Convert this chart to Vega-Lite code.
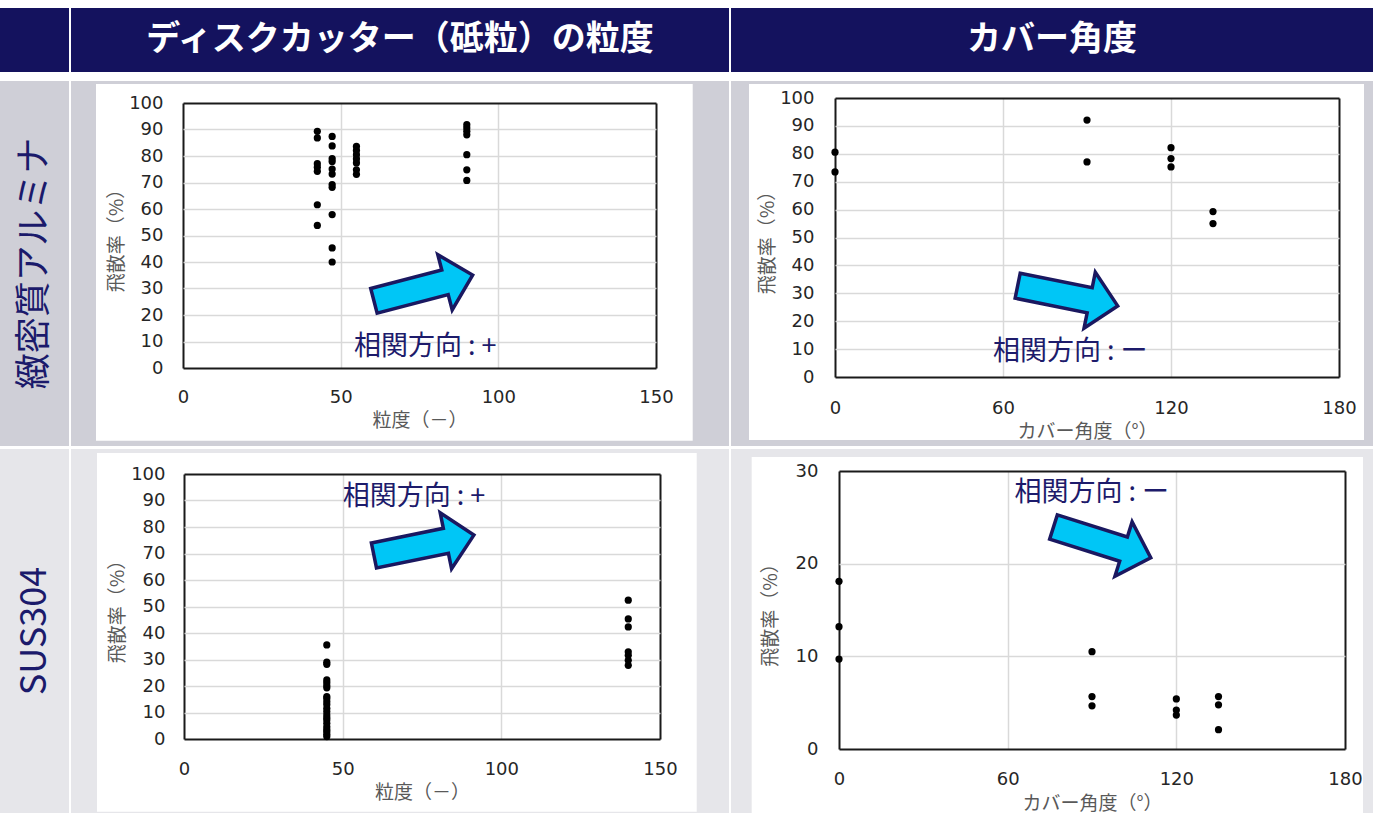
{
  "$schema": "https://vega.github.io/schema/vega-lite/v6.json",
  "background": "white",
  "padding": {"left": 0, "top": 8, "right": 0, "bottom": 0},
  "datasets": {
    "p1": [
      {"x": 42.6, "y": 89.3}, {"x": 42.6, "y": 86.8}, {"x": 42.6, "y": 77.1}, {"x": 42.6, "y": 75.8}, {"x": 42.6, "y": 74.2}, {"x": 42.6, "y": 61.6}, {"x": 42.6, "y": 53.8},
      {"x": 47.3, "y": 87.4}, {"x": 47.3, "y": 83.8}, {"x": 47.3, "y": 79.0}, {"x": 47.3, "y": 77.9}, {"x": 47.3, "y": 75.1}, {"x": 47.3, "y": 73.2}, {"x": 47.3, "y": 69.2}, {"x": 47.3, "y": 68.2}, {"x": 47.3, "y": 57.9}, {"x": 47.3, "y": 45.3}, {"x": 47.3, "y": 40.0},
      {"x": 55, "y": 83.6}, {"x": 55, "y": 82.1}, {"x": 55, "y": 80.5}, {"x": 55, "y": 78.9}, {"x": 55, "y": 77.4}, {"x": 55, "y": 74.8}, {"x": 55, "y": 73.1},
      {"x": 90, "y": 91.8}, {"x": 90, "y": 90.6}, {"x": 90, "y": 89.3}, {"x": 90, "y": 88.0}, {"x": 90, "y": 80.5}, {"x": 90, "y": 74.8}, {"x": 90, "y": 70.8}
    ],
    "p2": [
      {"x": 0, "y": 80.6}, {"x": 0, "y": 73.5},
      {"x": 90, "y": 92.1}, {"x": 90, "y": 77.1},
      {"x": 120, "y": 82.2}, {"x": 120, "y": 78.3}, {"x": 120, "y": 75.3},
      {"x": 135, "y": 59.3}, {"x": 135, "y": 55.0}
    ],
    "p3": [
      {"x": 45, "y": 35.5}, {"x": 45, "y": 29.0}, {"x": 45, "y": 28.2}, {"x": 45, "y": 22.3}, {"x": 45, "y": 21.3}, {"x": 45, "y": 20.2}, {"x": 45, "y": 19.3},
      {"x": 45, "y": 16.0}, {"x": 45, "y": 15.3}, {"x": 45, "y": 14.1}, {"x": 45, "y": 13.0}, {"x": 45, "y": 11.6}, {"x": 45, "y": 10.4}, {"x": 45, "y": 9.1}, {"x": 45, "y": 8.0},
      {"x": 45, "y": 7.2}, {"x": 45, "y": 5.9}, {"x": 45, "y": 4.6}, {"x": 45, "y": 3.6}, {"x": 45, "y": 2.8}, {"x": 45, "y": 1.8}, {"x": 45, "y": 0.9},
      {"x": 140, "y": 52.4}, {"x": 140, "y": 45.3}, {"x": 140, "y": 42.3}, {"x": 140, "y": 32.9}, {"x": 140, "y": 31.6}, {"x": 140, "y": 29.7}, {"x": 140, "y": 27.8}
    ],
    "p4": [
      {"x": 0, "y": 18.1}, {"x": 0, "y": 13.2}, {"x": 0, "y": 9.7},
      {"x": 90, "y": 10.5}, {"x": 90, "y": 5.66}, {"x": 90, "y": 4.66},
      {"x": 120, "y": 5.4}, {"x": 120, "y": 4.2}, {"x": 120, "y": 3.66},
      {"x": 135, "y": 5.66}, {"x": 135, "y": 4.77}, {"x": 135, "y": 2.08}
    ]
  },
  "spacing": 9,
  "vconcat": [
    {
      "spacing": 2,
      "hconcat": [
        {"width": 69, "height": 64, "view": {"fill": "#14125e", "stroke": null}, "data": {"values": [{"label": ""}]}, "mark": {"type": "text", "color": "white"}, "encoding": {"text": {"field": "label"}}},
        {"width": 658, "height": 64, "view": {"fill": "#14125e", "stroke": null}, "data": {"values": [{"label": "ディスクカッター（砥粒）の粒度"}]}, "mark": {"type": "text", "color": "white", "fontSize": 34, "fontWeight": "bold", "font": "Noto Sans CJK JP"}, "encoding": {"text": {"field": "label"}}},
        {"width": 642, "height": 64, "view": {"fill": "#14125e", "stroke": null}, "data": {"values": [{"label": "カバー角度"}]}, "mark": {"type": "text", "color": "white", "fontSize": 34, "fontWeight": "bold", "font": "Noto Sans CJK JP"}, "encoding": {"text": {"field": "label"}}}
      ]
    },
    {
      "spacing": 3,
      "vconcat": [
        {
          "spacing": 2,
          "hconcat": [
            {"width": 69, "height": 365, "view": {"fill": "#cfcfd7", "stroke": null}, "data": {"values": [{"label": "緻密質アルミナ"}]}, "mark": {"type": "text", "color": "#1b1a6b", "fontSize": 36, "angle": 270, "font": "Noto Sans CJK JP"}, "encoding": {"text": {"field": "label"}}},
            {
              "width": 658, "height": 365,
              "view": {"fill": "white", "stroke": null},
              "resolve": {"axis": {"x": "independent", "y": "independent"}},
              "layer": [
                {
                  "data": {"values": [{}]},
                  "mark": {"type": "rect", "color": "#cfcfd7", "clip": true},
                  "encoding": {
                    "x": {"datum": -60, "type": "quantitative", "scale": {"domain": [0, 150], "range": [112, 585], "nice": false, "zero": false},
                      "axis": {"orient": "top", "values": [0, 50, 100, 150], "grid": true, "labels": false, "title": null,
                        "gridColor": {"condition": {"test": "datum.value === 0 || datum.value === 150", "value": "#1a1a1a"}, "value": "#d9d9d9"},
                        "gridWidth": {"condition": {"test": "datum.value === 0 || datum.value === 150", "value": 2}, "value": 1.5}}},
                    "x2": {"datum": -27.59},
                    "y": {"datum": -60, "type": "quantitative", "scale": {"domain": [0, 100], "range": [287, 22], "nice": false, "zero": false},
                      "axis": {"orient": "left", "offset": -112, "values": [0, 10, 20, 30, 40, 50, 60, 70, 80, 90, 100], "grid": true, "labelPadding": 20, "title": "飛散率（%）", "titlePadding": 2,
                        "gridColor": {"condition": {"test": "datum.value === 0 || datum.value === 100", "value": "#1a1a1a"}, "value": "#d9d9d9"},
                        "gridWidth": {"condition": {"test": "datum.value === 0 || datum.value === 100", "value": 2}, "value": 1.5}}},
                    "y2": {"datum": 130}
                  }
                },
                {
                  "layer": [
                    {"data": {"values": [{}]}, "mark": {"type": "rect", "color": "#cfcfd7", "clip": true},
                      "encoding": {"x": {"datum": 161.64, "type": "quantitative", "scale": {"domain": [0, 150], "range": [112, 585], "nice": false, "zero": false}}, "x2": {"datum": 250},
                        "y": {"datum": -60, "type": "quantitative", "axis": null, "scale": {"domain": [0, 100], "range": [287, 22], "nice": false, "zero": false}}, "y2": {"datum": 130}}},
                    {"data": {"values": [{}]}, "mark": {"type": "rect", "color": "#cfcfd7", "clip": true},
                      "encoding": {"x": {"datum": -60, "type": "quantitative", "scale": {"domain": [0, 150], "range": [112, 585], "nice": false, "zero": false}}, "x2": {"datum": 250},
                        "y": {"datum": 107.17, "type": "quantitative", "axis": null, "scale": {"domain": [0, 100], "range": [287, 22], "nice": false, "zero": false}}, "y2": {"datum": 130}}},
                    {"data": {"values": [{}]}, "mark": {"type": "rect", "color": "#cfcfd7", "clip": true},
                      "encoding": {"x": {"datum": -60, "type": "quantitative", "scale": {"domain": [0, 150], "range": [112, 585], "nice": false, "zero": false}}, "x2": {"datum": 250},
                        "y": {"datum": -60, "type": "quantitative", "axis": null, "scale": {"domain": [0, 100], "range": [287, 22], "nice": false, "zero": false}}, "y2": {"datum": -27.43}}},
                    {"data": {"name": "p1"}, "mark": {"type": "circle", "size": 52, "color": "#000000", "opacity": 1},
                      "encoding": {
                        "x": {"field": "x", "type": "quantitative", "scale": {"domain": [0, 150], "range": [112, 585], "nice": false, "zero": false},
                          "axis": {"orient": "bottom", "offset": -78, "values": [0, 50, 100, 150], "grid": false, "labelPadding": 20, "title": "粒度（－）", "titlePadding": 5}},
                        "y": {"field": "y", "type": "quantitative", "axis": null, "scale": {"domain": [0, 100], "range": [287, 22], "nice": false, "zero": false}}}},
                    {"data": {"values": [{}]}, "mark": {"type": "point", "shape": "M-1,-0.25L0.44,-0.25L0.44,-0.56L1,0L0.44,0.56L0.44,0.25L-1,0.25Z", "size": 10404, "angle": -14.6, "filled": true, "fill": "#00c6f6", "stroke": "#1a1860", "strokeWidth": 3.5, "opacity": 1},
                      "encoding": {"x": {"datum": 76.2, "type": "quantitative", "scale": {"domain": [0, 150], "range": [112, 585], "nice": false, "zero": false}},
                        "y": {"datum": 30.2, "type": "quantitative", "axis": null, "scale": {"domain": [0, 100], "range": [287, 22], "nice": false, "zero": false}}}},
                    {"data": {"values": [{}]}, "mark": {"type": "text", "align": "left", "baseline": "middle", "fontSize": 27, "font": "Noto Sans CJK JP", "color": "#1d1b6b"},
                      "encoding": {"x": {"datum": 54.2, "type": "quantitative", "scale": {"domain": [0, 150], "range": [112, 585], "nice": false, "zero": false}},
                        "y": {"datum": 7.9, "type": "quantitative", "axis": null, "scale": {"domain": [0, 100], "range": [287, 22], "nice": false, "zero": false}},
                        "text": {"value": "相関方向 : +"}}}
                  ]
                }
              ]
            },
            {
              "width": 642, "height": 365,
              "view": {"fill": "white", "stroke": null},
              "resolve": {"axis": {"x": "independent", "y": "independent"}},
              "layer": [
                {
                  "data": {"values": [{}]},
                  "mark": {"type": "rect", "color": "#cfcfd7", "clip": true},
                  "encoding": {
                    "x": {"datum": -60, "type": "quantitative", "scale": {"domain": [0, 180], "range": [104, 608], "nice": false, "zero": false},
                      "axis": {"orient": "top", "values": [0, 60, 120, 180], "grid": true, "labels": false, "title": null,
                        "gridColor": {"condition": {"test": "datum.value === 0 || datum.value === 180", "value": "#1a1a1a"}, "value": "#d9d9d9"},
                        "gridWidth": {"condition": {"test": "datum.value === 0 || datum.value === 180", "value": 2}, "value": 1.5}}},
                    "x2": {"datum": -30.71},
                    "y": {"datum": -60, "type": "quantitative", "scale": {"domain": [0, 100], "range": [296, 17], "nice": false, "zero": false},
                      "axis": {"orient": "left", "offset": -104, "values": [0, 10, 20, 30, 40, 50, 60, 70, 80, 90, 100], "grid": true, "labelPadding": 21, "title": "飛散率（%）", "titlePadding": 2,
                        "gridColor": {"condition": {"test": "datum.value === 0 || datum.value === 100", "value": "#1a1a1a"}, "value": "#d9d9d9"},
                        "gridWidth": {"condition": {"test": "datum.value === 0 || datum.value === 100", "value": 2}, "value": 1.5}}},
                    "y2": {"datum": 130}
                  }
                },
                {
                  "layer": [
                    {"data": {"values": [{}]}, "mark": {"type": "rect", "color": "#cfcfd7", "clip": true},
                      "encoding": {"x": {"datum": 188.93, "type": "quantitative", "scale": {"domain": [0, 180], "range": [104, 608], "nice": false, "zero": false}}, "x2": {"datum": 250},
                        "y": {"datum": -60, "type": "quantitative", "axis": null, "scale": {"domain": [0, 100], "range": [296, 17], "nice": false, "zero": false}}, "y2": {"datum": 130}}},
                    {"data": {"values": [{}]}, "mark": {"type": "rect", "color": "#cfcfd7", "clip": true},
                      "encoding": {"x": {"datum": -60, "type": "quantitative", "scale": {"domain": [0, 180], "range": [104, 608], "nice": false, "zero": false}}, "x2": {"datum": 250},
                        "y": {"datum": 105.02, "type": "quantitative", "axis": null, "scale": {"domain": [0, 100], "range": [296, 17], "nice": false, "zero": false}}, "y2": {"datum": 130}}},
                    {"data": {"values": [{}]}, "mark": {"type": "rect", "color": "#cfcfd7", "clip": true},
                      "encoding": {"x": {"datum": -60, "type": "quantitative", "scale": {"domain": [0, 180], "range": [104, 608], "nice": false, "zero": false}}, "x2": {"datum": 250},
                        "y": {"datum": -60, "type": "quantitative", "axis": null, "scale": {"domain": [0, 100], "range": [296, 17], "nice": false, "zero": false}}, "y2": {"datum": -22.58}}},
                    {"data": {"name": "p2"}, "mark": {"type": "circle", "size": 52, "color": "#000000", "opacity": 1},
                      "encoding": {
                        "x": {"field": "x", "type": "quantitative", "scale": {"domain": [0, 180], "range": [104, 608], "nice": false, "zero": false},
                          "axis": {"orient": "bottom", "offset": -69, "values": [0, 60, 120, 180], "grid": false, "labelPadding": 22, "title": "カバー角度（°）", "titlePadding": 5}},
                        "y": {"field": "y", "type": "quantitative", "axis": null, "scale": {"domain": [0, 100], "range": [296, 17], "nice": false, "zero": false}}}},
                    {"data": {"values": [{}]}, "mark": {"type": "point", "shape": "M-1,-0.25L0.44,-0.25L0.44,-0.56L1,0L0.44,0.56L0.44,0.25L-1,0.25Z", "size": 10404, "angle": 11.4, "filled": true, "fill": "#00c6f6", "stroke": "#1a1860", "strokeWidth": 3.5, "opacity": 1},
                      "encoding": {"x": {"datum": 83.1, "type": "quantitative", "scale": {"domain": [0, 180], "range": [104, 608], "nice": false, "zero": false}},
                        "y": {"datum": 29.1, "type": "quantitative", "axis": null, "scale": {"domain": [0, 100], "range": [296, 17], "nice": false, "zero": false}}}},
                    {"data": {"values": [{}]}, "mark": {"type": "text", "align": "left", "baseline": "middle", "fontSize": 27, "font": "Noto Sans CJK JP", "color": "#1d1b6b"},
                      "encoding": {"x": {"datum": 56.4, "type": "quantitative", "scale": {"domain": [0, 180], "range": [104, 608], "nice": false, "zero": false}},
                        "y": {"datum": 9.0, "type": "quantitative", "axis": null, "scale": {"domain": [0, 100], "range": [296, 17], "nice": false, "zero": false}},
                        "text": {"value": "相関方向 : ー"}}}
                  ]
                }
              ]
            }
          ]
        },
        {
          "spacing": 2,
          "hconcat": [
            {"width": 69, "height": 364, "view": {"fill": "#e6e6ea", "stroke": null}, "data": {"values": [{"label": "SUS304"}]}, "mark": {"type": "text", "color": "#1b1a6b", "fontSize": 36, "angle": 270, "font": "Noto Sans CJK JP"}, "encoding": {"text": {"field": "label"}}},
            {
              "width": 658, "height": 364,
              "view": {"fill": "white", "stroke": null},
              "resolve": {"axis": {"x": "independent", "y": "independent"}},
              "layer": [
                {
                  "data": {"values": [{}]},
                  "mark": {"type": "rect", "color": "#e6e6ea", "clip": true},
                  "encoding": {
                    "x": {"datum": -60, "type": "quantitative", "scale": {"domain": [0, 150], "range": [113, 589], "nice": false, "zero": false},
                      "axis": {"orient": "top", "values": [0, 50, 100, 150], "grid": true, "labels": false, "title": null,
                        "gridColor": {"condition": {"test": "datum.value === 0 || datum.value === 150", "value": "#1a1a1a"}, "value": "#d9d9d9"},
                        "gridWidth": {"condition": {"test": "datum.value === 0 || datum.value === 150", "value": 2}, "value": 1.5}}},
                    "x2": {"datum": -27.42},
                    "y": {"datum": -60, "type": "quantitative", "scale": {"domain": [0, 100], "range": [290, 25], "nice": false, "zero": false},
                      "axis": {"orient": "left", "offset": -113, "values": [0, 10, 20, 30, 40, 50, 60, 70, 80, 90, 100], "grid": true, "labelPadding": 19, "title": "飛散率（%）", "titlePadding": 3,
                        "gridColor": {"condition": {"test": "datum.value === 0 || datum.value === 100", "value": "#1a1a1a"}, "value": "#d9d9d9"},
                        "gridWidth": {"condition": {"test": "datum.value === 0 || datum.value === 100", "value": 2}, "value": 1.5}}},
                    "y2": {"datum": 130}
                  }
                },
                {
                  "layer": [
                    {"data": {"values": [{}]}, "mark": {"type": "rect", "color": "#e6e6ea", "clip": true},
                      "encoding": {"x": {"datum": 161.57, "type": "quantitative", "scale": {"domain": [0, 150], "range": [113, 589], "nice": false, "zero": false}}, "x2": {"datum": 250},
                        "y": {"datum": -60, "type": "quantitative", "axis": null, "scale": {"domain": [0, 100], "range": [290, 25], "nice": false, "zero": false}}, "y2": {"datum": 130}}},
                    {"data": {"values": [{}]}, "mark": {"type": "rect", "color": "#e6e6ea", "clip": true},
                      "encoding": {"x": {"datum": -60, "type": "quantitative", "scale": {"domain": [0, 150], "range": [113, 589], "nice": false, "zero": false}}, "x2": {"datum": 250},
                        "y": {"datum": 107.92, "type": "quantitative", "axis": null, "scale": {"domain": [0, 100], "range": [290, 25], "nice": false, "zero": false}}, "y2": {"datum": 130}}},
                    {"data": {"values": [{}]}, "mark": {"type": "rect", "color": "#e6e6ea", "clip": true},
                      "encoding": {"x": {"datum": -60, "type": "quantitative", "scale": {"domain": [0, 150], "range": [113, 589], "nice": false, "zero": false}}, "x2": {"datum": 250},
                        "y": {"datum": -60, "type": "quantitative", "axis": null, "scale": {"domain": [0, 100], "range": [290, 25], "nice": false, "zero": false}}, "y2": {"datum": -27.43}}},
                    {"data": {"name": "p3"}, "mark": {"type": "circle", "size": 52, "color": "#000000", "opacity": 1},
                      "encoding": {
                        "x": {"field": "x", "type": "quantitative", "scale": {"domain": [0, 150], "range": [113, 589], "nice": false, "zero": false},
                          "axis": {"orient": "bottom", "offset": -74, "values": [0, 50, 100, 150], "grid": false, "labelPadding": 21, "title": "粒度（－）", "titlePadding": 5}},
                        "y": {"field": "y", "type": "quantitative", "axis": null, "scale": {"domain": [0, 100], "range": [290, 25], "nice": false, "zero": false}}}},
                    {"data": {"values": [{}]}, "mark": {"type": "point", "shape": "M-1,-0.25L0.44,-0.25L0.44,-0.56L1,0L0.44,0.56L0.44,0.25L-1,0.25Z", "size": 10404, "angle": -11.5, "filled": true, "fill": "#00c6f6", "stroke": "#1a1860", "strokeWidth": 3.5, "opacity": 1},
                      "encoding": {"x": {"datum": 75.6, "type": "quantitative", "scale": {"domain": [0, 150], "range": [113, 589], "nice": false, "zero": false}},
                        "y": {"datum": 73.1, "type": "quantitative", "axis": null, "scale": {"domain": [0, 100], "range": [290, 25], "nice": false, "zero": false}}}},
                    {"data": {"values": [{}]}, "mark": {"type": "text", "align": "left", "baseline": "middle", "fontSize": 27, "font": "Noto Sans CJK JP", "color": "#1d1b6b"},
                      "encoding": {"x": {"datum": 50.0, "type": "quantitative", "scale": {"domain": [0, 150], "range": [113, 589], "nice": false, "zero": false}},
                        "y": {"datum": 91.4, "type": "quantitative", "axis": null, "scale": {"domain": [0, 100], "range": [290, 25], "nice": false, "zero": false}},
                        "text": {"value": "相関方向 : +"}}}
                  ]
                }
              ]
            },
            {
              "width": 642, "height": 364,
              "view": {"fill": "white", "stroke": null},
              "resolve": {"axis": {"x": "independent", "y": "independent"}},
              "layer": [
                {
                  "data": {"values": [{}]},
                  "mark": {"type": "rect", "color": "#e6e6ea", "clip": true},
                  "encoding": {
                    "x": {"datum": -60, "type": "quantitative", "scale": {"domain": [0, 180], "range": [108, 614], "nice": false, "zero": false},
                      "axis": {"orient": "top", "values": [0, 60, 120, 180], "grid": true, "labels": false, "title": null,
                        "gridColor": {"condition": {"test": "datum.value === 0 || datum.value === 180", "value": "#1a1a1a"}, "value": "#d9d9d9"},
                        "gridWidth": {"condition": {"test": "datum.value === 0 || datum.value === 180", "value": 2}, "value": 1.5}}},
                    "x2": {"datum": -31.06},
                    "y": {"datum": -20, "type": "quantitative", "scale": {"domain": [0, 30], "range": [300, 22], "nice": false, "zero": false},
                      "axis": {"orient": "left", "offset": -108, "values": [0, 10, 20, 30], "grid": true, "labelPadding": 21, "title": "飛散率（%）", "titlePadding": 15,
                        "gridColor": {"condition": {"test": "datum.value === 0 || datum.value === 30", "value": "#1a1a1a"}, "value": "#d9d9d9"},
                        "gridWidth": {"condition": {"test": "datum.value === 0 || datum.value === 30", "value": 2}, "value": 1.5}}},
                    "y2": {"datum": 40}
                  }
                },
                {
                  "layer": [
                    {"data": {"values": [{}]}, "mark": {"type": "rect", "color": "#e6e6ea", "clip": true},
                      "encoding": {"x": {"datum": 186.4, "type": "quantitative", "scale": {"domain": [0, 180], "range": [108, 614], "nice": false, "zero": false}}, "x2": {"datum": 250},
                        "y": {"datum": -20, "type": "quantitative", "axis": null, "scale": {"domain": [0, 30], "range": [300, 22], "nice": false, "zero": false}}, "y2": {"datum": 40}}},
                    {"data": {"values": [{}]}, "mark": {"type": "rect", "color": "#e6e6ea", "clip": true},
                      "encoding": {"x": {"datum": -60, "type": "quantitative", "scale": {"domain": [0, 180], "range": [108, 614], "nice": false, "zero": false}}, "x2": {"datum": 250},
                        "y": {"datum": 31.51, "type": "quantitative", "axis": null, "scale": {"domain": [0, 30], "range": [300, 22], "nice": false, "zero": false}}, "y2": {"datum": 40}}},
                    {"data": {"name": "p4"}, "mark": {"type": "circle", "size": 52, "color": "#000000", "opacity": 1},
                      "encoding": {
                        "x": {"field": "x", "type": "quantitative", "scale": {"domain": [0, 180], "range": [108, 614], "nice": false, "zero": false},
                          "axis": {"orient": "bottom", "offset": -64, "values": [0, 60, 120, 180], "grid": false, "labelPadding": 21, "title": "カバー角度（°）", "titlePadding": 6}},
                        "y": {"field": "y", "type": "quantitative", "axis": null, "scale": {"domain": [0, 30], "range": [300, 22], "nice": false, "zero": false}}}},
                    {"data": {"values": [{}]}, "mark": {"type": "point", "shape": "M-1,-0.25L0.44,-0.25L0.44,-0.56L1,0L0.44,0.56L0.44,0.25L-1,0.25Z", "size": 10404, "angle": 17.5, "filled": true, "fill": "#00c6f6", "stroke": "#1a1860", "strokeWidth": 3.5, "opacity": 1},
                      "encoding": {"x": {"datum": 93.6, "type": "quantitative", "scale": {"domain": [0, 180], "range": [108, 614], "nice": false, "zero": false}},
                        "y": {"datum": 22.3, "type": "quantitative", "axis": null, "scale": {"domain": [0, 30], "range": [300, 22], "nice": false, "zero": false}}}},
                    {"data": {"values": [{}]}, "mark": {"type": "text", "align": "left", "baseline": "middle", "fontSize": 27, "font": "Noto Sans CJK JP", "color": "#1d1b6b"},
                      "encoding": {"x": {"datum": 62.4, "type": "quantitative", "scale": {"domain": [0, 180], "range": [108, 614], "nice": false, "zero": false}},
                        "y": {"datum": 27.6, "type": "quantitative", "axis": null, "scale": {"domain": [0, 30], "range": [300, 22], "nice": false, "zero": false}},
                        "text": {"value": "相関方向 : ー"}}}
                  ]
                }
              ]
            }
          ]
        }
      ]
    }
  ],
  "config": {
    "font": "Noto Sans CJK JP",
    "view": {"stroke": null},
    "axis": {
      "domain": false, "ticks": false, "tickSize": 0,
      "labelFont": "DejaVu Sans", "labelFontSize": 18, "labelColor": "#262626",
      "labelFlush": false, "labelOverlap": false, "labelBound": false,
      "titleFont": "Noto Sans CJK JP", "titleFontSize": 19, "titleFontWeight": "normal", "titleColor": "#595959",
      "gridColor": "#d9d9d9", "gridWidth": 1.5
    }
  }
}
